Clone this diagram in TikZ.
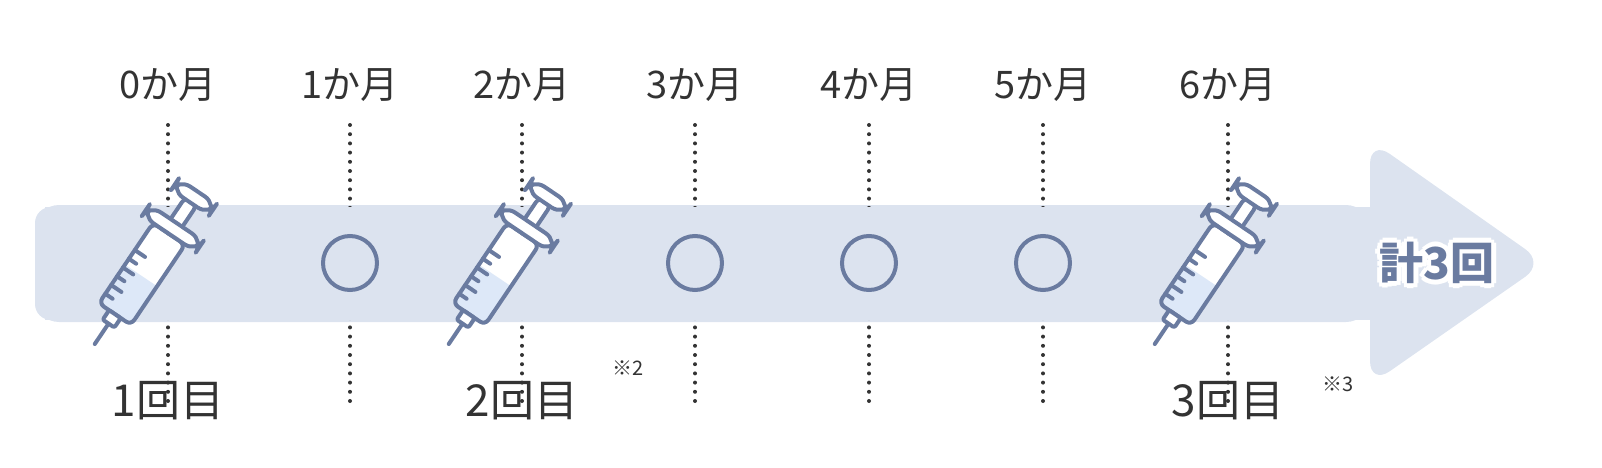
\documentclass[tikz,border=0pt]{standalone}
\usepackage{fontspec}
\setmainfont{Noto Sans CJK JP}
\usetikzlibrary{positioning}
\definecolor{band}{HTML}{DCE3EF}
\definecolor{ink}{HTML}{6A7BA0}
\definecolor{txt}{HTML}{333333}
\definecolor{liq}{HTML}{DDE8F8}
\tikzset{
  month/.style={text=txt,font=\fontsize{19}{19}\selectfont},
  dose/.style={text=txt,font=\fontsize{22}{22}\selectfont},
  note/.style={text=txt,font=\fontsize{10}{10}\selectfont},
  dots/.style={line width=2pt,line cap=round,dash pattern=on 0pt off 4.6pt,txt},
  visit/.style={circle,draw=ink,line width=2pt,minimum size=27pt,fill=band},
  syr/.style={draw=ink,line width=2pt,rounded corners=3pt,line join=round},
  syringe/.pic={
    \begin{scope}[scale=0.88]
    \fill[white] (-22,-55) rectangle (22,55);
    \fill[liq] (-22,-55) rectangle (22,-2);
    \draw[syr] (-22,-55) rectangle (22,55);
    \foreach \t/\l in {-42/10,-30/14,-18/10,-6/14,6/10,18/14}
      \draw[ink,line width=2pt,line cap=round] (-22,\t) -- ++(\l,0);
    \draw[syr,fill=white] (-8,55) rectangle (8,100);
    \draw[syr,fill=white,rounded corners=7pt] (-37,55) rectangle (37,70);
    \draw[syr,fill=white,rounded corners=7pt] (-26,98) rectangle (26,113);
    \draw[syr,fill=white,rounded corners=1pt] (-8,-55) rectangle (8,-68);
    \draw[ink,line width=2pt,line cap=round] (0,-68) -- (0,-96);
    \end{scope}
  },
  total/.style={font=\bfseries\fontsize{22}{22}\selectfont}
}
\begin{document}
\begin{tikzpicture}[x=0.5pt,y=0.5pt]
% band with arrow head
\fill[band,rounded corners=12pt] (35,262) -- (35,145) -- (1370,145) -- (1370,327)
  -- (1545,204) -- (1370,82) -- (1370,262) -- cycle;
% months
\foreach \i/\x in {0/168,1/350,2/522,3/695,4/869,5/1043,6/1228}{
  \node[month] (m\i) at (\x,382) {\i か月};
  \coordinate (t\i) at (\x,342);
  \coordinate (b\i) at (\x,57);
  \draw[dots] (t\i) -- (b\i);
}
\fill[band] (45,147) rectangle (1370,260);
\fill[band,rounded corners=8pt] (35,147) rectangle (200,260);
% visits
\foreach \i in {1,3,4,5}
  \node[visit] (v\i) at (m\i.center |- 0,204) {};
\foreach \i in {0,2,6}
  \pic at ([xshift=-13]m\i.center |- 0,193) [rotate=-34] {syringe};
% doses
\node[dose] (d1) at (168,66) {1回目};
\node[dose] (d2) at (522,66) {2回目};
\node[dose] (d3) at (1228,66) {3回目};
\node[note,above right=-4pt and 10pt of d2.north east] (n2) {※2};
\node[note,above right=-12pt and 12pt of d3.north east] (n3) {※3};
% total
\foreach \a in {0,45,...,315}
  \path ([shift={(\a:5)}]1437,204) node[total,text=white] {計3回};
\node[total,text=ink] (total) at (1437,204) {計3回};
\pgfresetboundingbox
\path (0,0) rectangle (1602,467);
\end{tikzpicture}
\end{document}
